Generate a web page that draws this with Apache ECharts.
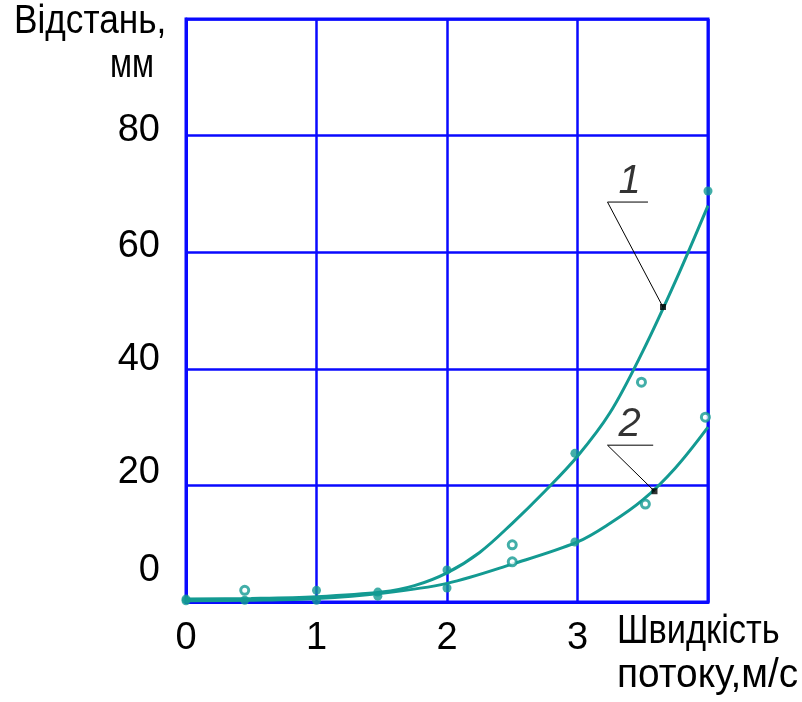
<!DOCTYPE html>
<html>
<head>
<meta charset="utf-8">
<script src="https://cdn.jsdelivr.net/npm/echarts@6/dist/echarts.min.js"></script>
<style>
  html, body { margin: 0; padding: 0; background: #fff; }
  #chart { width: 802px; height: 702px; }
</style>
</head>
<body>
<div id="chart"></div>
<script>
// Flow speed (m/s) vs. distance (mm): two fitted curves and their measured points.
const xTicks = [0, 1, 2, 3];
const yTicks = [0, 20, 40, 60, 80];

// Fitted curve 1
const curve1X = [0, 0.5, 1, 1.5, 1.75, 2, 2.25, 2.5, 2.75, 3, 3.25, 3.5, 3.75, 4];
const curve1Y = [0.5, 0.6, 0.9, 1.7, 2.8, 5, 8.5, 13.5, 19, 25, 32.5, 43, 55, 68];
// Fitted curve 2
const curve2X = [0, 0.5, 1, 1.5, 2, 2.5, 3, 3.25, 3.5, 3.75, 4];
const curve2Y = [0.2, 0.3, 0.6, 1.5, 3.2, 6.5, 10.3, 13.5, 17.5, 23, 30];

// Measured points, series 1
const pts1X = [0, 0.45, 1, 1.47, 2, 2.5, 2.98, 3.49, 4];
const pts1Y = [0.5, 2, 2, 1.7, 5.5, 9.8, 25.5, 37.7, 70.5];
const pts1Open = [false, true, false, false, false, true, false, true, false];
// Measured points, series 2
const pts2X = [0, 0.45, 1, 1.47, 2, 2.5, 2.98, 3.52, 3.98];
const pts2Y = [0.2, 0.3, 0.3, 1, 2.4, 6.9, 10.3, 16.8, 31.7];
const pts2Open = [false, false, false, false, false, true, false, true, true];

// Callout leaders: shelf end, corner, tip on the curve
const leaderNames = ['1', '2'];
const leader1 = [[3.54, 68.6], [3.23, 68.6], [3.655, 50.6]];
const leader2 = [[3.58, 26.9], [3.23, 26.9], [3.59, 19.0]];
const leaderText = [[3.40, 72.0], [3.40, 30.4]];

const TEAL = '#139a92';
const BLUE = '#0a0aff';
const FONT = '"Liberation Sans", Arimo, sans-serif';

// Lift of each y tick label above its grid line
const yLabelLift = { 0: 62, 20: 26, 40: 18, 60: 12, 80: 10 };

function zip(xs, ys) { return xs.map((x, i) => [x, ys[i]]); }
function pointItems(xs, ys, open) {
  return xs.map((x, i) => ({
    value: [x, ys[i]],
    symbol: 'circle',
    symbolSize: open[i] ? 8 : 9,
    itemStyle: open[i]
      ? { color: '#fff', borderColor: TEAL, borderWidth: 3 }
      : { color: TEAL }
  }));
}

const yRich = {};
yTicks.forEach(t => {
  yRich['t' + t] = { fontFamily: FONT, fontSize: 38, color: '#000', padding: [0, 0, yLabelLift[t], 0] };
});

const chart = echarts.init(document.getElementById('chart'), null, { renderer: 'canvas' });

chart.setOption({
  animation: false,
  backgroundColor: '#fff',
  grid: { left: 186, right: 94, top: 19, bottom: 100, show: true, borderColor: BLUE, borderWidth: 3 },
  xAxis: {
    type: 'value', min: 0, max: 4, interval: 1,
    axisLine: { show: true, lineStyle: { color: BLUE, width: 3 } },
    axisTick: { show: false },
    splitLine: { show: true, lineStyle: { color: BLUE, width: 2.5 } },
    axisLabel: {
      margin: 18, color: '#000', fontFamily: FONT, fontSize: 38,
      formatter: v => xTicks.includes(v) ? String(v) : ''
    }
  },
  yAxis: {
    type: 'value', min: 0, max: 100, interval: 20,
    axisLine: { show: true, lineStyle: { color: BLUE, width: 3 } },
    axisTick: { show: false },
    splitLine: { show: true, lineStyle: { color: BLUE, width: 2.5 } },
    axisLabel: {
      margin: 26, color: '#000', fontFamily: FONT, fontSize: 38,
      formatter: v => yTicks.includes(v) ? '{t' + v + '|' + v + '}' : '',
      rich: yRich
    }
  },
  series: [
    { type: 'line', data: zip(curve1X, curve1Y), smooth: 0.35, showSymbol: false,
      lineStyle: { color: TEAL, width: 3 }, z: 3 },
    { type: 'line', data: zip(curve2X, curve2Y), smooth: 0.35, showSymbol: false,
      lineStyle: { color: TEAL, width: 3 }, z: 3 },
    { type: 'scatter', data: pointItems(pts1X, pts1Y, pts1Open), z: 4 },
    { type: 'scatter', data: pointItems(pts2X, pts2Y, pts2Open), z: 4 },
    { type: 'line', data: leader1, showSymbol: false, lineStyle: { color: '#000', width: 1 }, z: 5 },
    { type: 'line', data: leader2, showSymbol: false, lineStyle: { color: '#000', width: 1 }, z: 5 },
    { type: 'scatter', data: [leader1[2], leader2[2]], symbol: 'rect', symbolSize: 6,
      itemStyle: { color: '#000' }, z: 6 },
    { type: 'scatter', symbolSize: 0, z: 6,
      data: leaderText.map((p, i) => ({ value: p, name: leaderNames[i] })),
      label: { show: true, position: 'inside', formatter: p => p.name,
               fontFamily: FONT, fontStyle: 'italic', fontSize: 40, color: '#000' } }
  ],
  graphic: [
    { type: 'text', left: 14, top: 2, scaleX: 0.88,
      style: { text: 'Відстань,', font: '40px ' + FONT, fill: '#000' } },
    { type: 'text', left: 110, top: 46, scaleX: 0.8,
      style: { text: 'мм', font: '40px ' + FONT, fill: '#000' } },
    { type: 'text', left: 617, top: 612, scaleX: 0.86,
      style: { text: 'Швидкість', font: '40px ' + FONT, fill: '#000' } },
    { type: 'text', left: 617, top: 656, scaleX: 0.97,
      style: { text: 'потоку,м/с', font: '40px ' + FONT, fill: '#000' } }
  ]
});
</script>
</body>
</html>
